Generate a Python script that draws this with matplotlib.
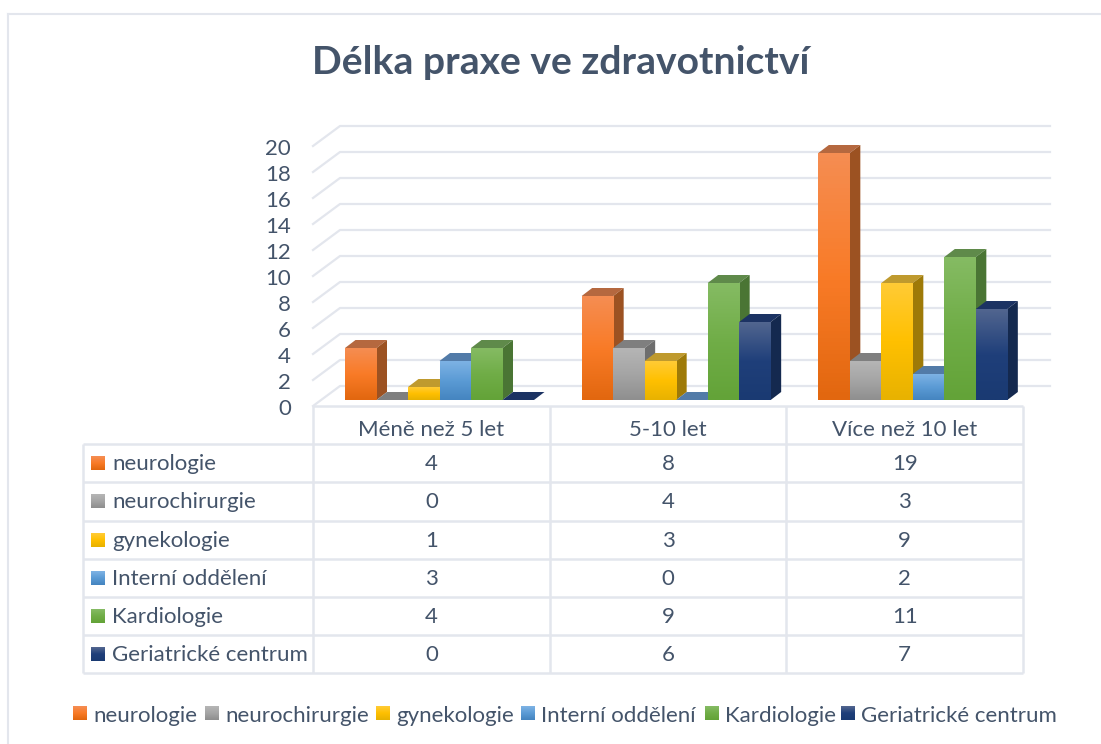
import matplotlib
matplotlib.use("Agg")
import matplotlib.pyplot as plt
from matplotlib.colors import LinearSegmentedColormap
from matplotlib.patches import Polygon
import numpy as np

title = "Délka praxe ve zdravotnictví"
categories = ["Méně než 5 let", "5-10 let", "Více než 10 let"]
departments = ["neurologie", "neurochirurgie", "gynekologie", "Interní oddělení", "Kardiologie", "Geriatrické centrum"]
neurologie = [4, 8, 19]
neurochirurgie = [0, 4, 3]
gynekologie = [1, 3, 9]
interni = [3, 0, 2]
kardiologie = [4, 9, 11]
geriatrie = [0, 6, 7]
series = [neurologie, neurochirurgie, gynekologie, interni, kardiologie, geriatrie]

# light / mid / dark of the front face, then top and side face
fronts = [
    ("#F58D52", "#F97B27", "#E2670F"),
    ("#B5B5B5", "#A5A5A5", "#8F8F8F"),
    ("#FFCB35", "#FFC000", "#E8B200"),
    ("#7DB2E4", "#5B9BD5", "#4585C0"),
    ("#85BB63", "#70AD47", "#63A338"),
    ("#51658F", "#1F3F7A", "#1A3A72"),
]
tops = ["#B5683F", "#7F7F7F", "#BF9A2E", "#527BA8", "#5F8A4A", "#1C3363"]
sides = ["#9C5222", "#6E6E6E", "#9E7A08", "#3F6A96", "#4A7534", "#14294F"]

TXT = "#44546A"
GRID = "#E3E6ED"
W, H = 1101, 744
plt.rcParams["font.family"] = ["Lato", "DejaVu Sans"]

fig = plt.figure(figsize=(W / 100, H / 100), dpi=100, facecolor="white")

# axes: x in categories, y in values; 1 category = 236.67 px, 1 unit = 13 px
left, right, base, top = 313, 1023, 400, 140
ax = fig.add_axes([left / W, 1 - base / H, (right - left) / W, (base - top) / H])
ax.set_xlim(0, 3)
ax.set_ylim(0, (base - top) / 13)
ax.axis("off")
px = 3 / (right - left)
py = 1 / 13

# wall gridlines, floor edge
ticks = list(range(0, 22, 2))
front_drop = 6 * py
dx_wall, dy_wall = 27 * px, 20 * py
wall_end = (1050 - left) * px
for t in ticks:
    y = t - front_drop
    ax.plot([0, dx_wall, wall_end], [y, y + dy_wall, y + dy_wall], color=GRID, lw=1.6,
            clip_on=False, solid_joinstyle="round", zorder=1)
    ax.text(-22 * px, y - 3 * py, str(t), ha="right", va="center", fontsize=16, color=TXT, clip_on=False)

# bars
bar_w = 31.5 * px
lead = 32 * px
dx, dy = 10.5 * px, 8 * py
for s, vals in enumerate(series):
    cmap = LinearSegmentedColormap.from_list("f", list(fronts[s]))
    for c, v in enumerate(vals):
        x0 = c + lead + s * bar_w
        x1 = x0 + bar_w
        z = 3 + c * 10 + s
        ax.add_patch(Polygon([(x0, v), (x0 + dx, v + dy), (x1 + dx, v + dy), (x1, v)], color=tops[s],
                             lw=0, zorder=z, clip_on=False))
        if v > 0:
            ax.add_patch(Polygon([(x1, 0), (x1 + dx, dy), (x1 + dx, v + dy), (x1, v)], color=sides[s],
                                 lw=0, zorder=z, clip_on=False))
            ax.imshow(np.linspace(0, 1, 64)[:, None], cmap=cmap, extent=[x0, x1, 0, v], origin="upper",
                      aspect="auto", zorder=z + 0.5, clip_on=False)
ax.set_xlim(0, 3)
ax.set_ylim(0, (base - top) / 13)

# data table, in figure pixels
tb = fig.add_axes([0, 0, 1, 1], zorder=5)
tb.set_xlim(0, W)
tb.set_ylim(H, 0)
tb.axis("off")
tb.patch.set_alpha(0)
tab_l, tab_c, tab_r = 83, 313, 1023
tab_t, row_h = 406, 38.2
head_b = tab_t + row_h
line = dict(color=GRID, lw=1.8, solid_capstyle="butt")
n = len(departments)
tab_b = head_b + n * row_h
tb.plot([tab_c, tab_r], [tab_t, tab_t], **line)
for i in range(n + 1):
    y = head_b + i * row_h
    tb.plot([tab_l, tab_r], [y, y], **line)
tb.plot([tab_l, tab_l], [head_b, tab_b], **line)
col_w = (tab_r - tab_c) / 3
for j in range(4):
    x = tab_c + j * col_w
    tb.plot([x, x], [tab_t, tab_b], **line)
for j, cat in enumerate(categories):
    tb.text(tab_c + (j + 0.5) * col_w, tab_t + row_h / 2 + 4.5, cat, ha="center", va="center", fontsize=16, color=TXT)


def swatch(axis, x, y, size, s):
    cmap = LinearSegmentedColormap.from_list("f", list(fronts[s]))
    axis.imshow(np.linspace(0, 1, 16)[:, None], cmap=cmap, extent=[x, x + size, y + size / 2, y - size / 2],
                aspect="auto", zorder=6)


for i, name in enumerate(departments):
    y = head_b + (i + 0.5) * row_h
    swatch(tb, 91, y, 14, i)
    tb.text(112, y + 1, name, ha="left", va="center", fontsize=16, color=TXT)
    for j in range(3):
        tb.text(tab_c + (j + 0.5) * col_w, y + 1, str(series[i][j]), ha="center", va="center", fontsize=16, color=TXT)

# legend
leg_x = [73, 205, 376, 521, 705, 841]
for i, name in enumerate(departments):
    swatch(tb, leg_x[i], 713, 14, i)
    tb.text(leg_x[i] + 20, 716, name, ha="left", va="center", fontsize=16, color=TXT)

tb.text(561, 62, title, ha="center", va="center", fontsize=28.2, fontweight="bold", color=TXT)

# picture frame
tb.plot([8, 8], [14, H], color=GRID, lw=1.5)
tb.plot([8, W], [14, 14], color=GRID, lw=1.5)
tb.set_xlim(0, W)
tb.set_ylim(H, 0)

fig.savefig("out.png", dpi=100)
